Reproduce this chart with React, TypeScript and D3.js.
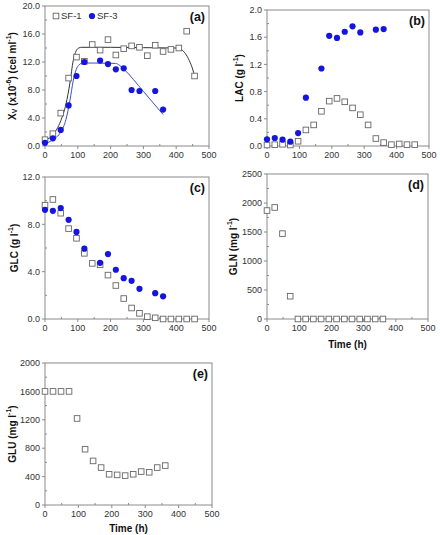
import React from "react";
import * as d3 from "d3";

// ---------- DATA ----------
const timesSF1 = [0, 24, 48, 72, 96, 120, 144, 168, 192, 216, 240, 264, 288, 312, 336, 360, 384, 408, 432, 456];
const timesSF3 = [0, 24, 48, 72, 96, 120, 168, 192, 216, 240, 264, 288, 336, 360];

const xvSF1 = [0.9, 1.76, 4.7, 9.7, 12.7, 12.1, 14.5, 13.7, 15.2, 13.0, 13.9, 14.3, 14.1, 12.9, 14.4, 13.5, 13.8, 14.0, 16.4, 10.0];
const xvSF3 = [0.45, 1.1, 2.3, 5.8, 10.0, 12.0, 12.2, 11.7, 10.95, 11.1, 8.0, 7.86, 7.86, 5.2];

const fitSF1T = [0, 24, 48, 64, 76, 86, 95, 103, 112, 200, 300, 400, 415, 428, 440, 450, 456];
const fitSF1V = [0.8, 1.6, 3.6, 6.0, 9.0, 12.2, 13.6, 14.0, 14.1, 14.1, 14.05, 14.0, 13.8, 13.2, 12.2, 11.0, 10.0];
const fitSF3T = [0, 24, 48, 64, 76, 86, 95, 104, 115, 150, 215, 228, 240, 300, 360];
const fitSF3V = [0.3, 0.9, 2.0, 3.8, 6.5, 9.3, 10.9, 11.6, 11.85, 11.85, 11.8, 11.5, 11.0, 7.8, 4.5];

const lacSF1 = [0.015, 0.02, 0.025, 0.015, 0.07, 0.236, 0.31, 0.51, 0.66, 0.7, 0.65, 0.56, 0.46, 0.31, 0.11, 0.05, 0.02, 0.03, 0.02, 0.02];
const lacSF3 = [0.098, 0.118, 0.093, 0.064, 0.19, 0.71, 1.14, 1.62, 1.59, 1.68, 1.76, 1.67, 1.71, 1.72];

const glcSF1 = [9.62, 10.1, 8.94, 7.64, 6.82, 5.55, 4.7, 4.58, 3.71, 2.83, 1.73, 0.93, 0.48, 0.2, 0.1, 0.0, 0.0, 0.0, 0.0, 0.0];
const glcSF3 = [9.23, 9.14, 9.37, 8.38, 7.36, 5.94, 4.75, 5.49, 4.16, 3.45, 3.23, 2.55, 2.18, 1.92];

const glnTimes = [0, 24, 48, 72, 96, 120, 144, 168, 192, 216, 240, 264, 288, 312, 336, 360];
const glnSF1 = [1870, 1923, 1472, 393, 0, 0, 0, 0, 0, 0, 0, 0, 0, 0, 0, 0];

const gluTimes = [0, 24, 48, 72, 96, 120, 144, 168, 192, 216, 240, 264, 288, 312, 336, 360];
const gluSF1 = [1600, 1600, 1600, 1600, 1219, 786, 621, 527, 433, 424, 414, 433, 471, 461, 527, 555];

const xTicks = [0, 100, 200, 300, 400, 500];
const ticksA = [0, 4, 8, 12, 16, 20];
const ticksB = [0, 0.4, 0.8, 1.2, 1.6, 2.0];
const ticksC = [0, 4, 8, 12];
const ticksD = [0, 500, 1000, 1500, 2000, 2500];
const ticksE = [0, 400, 800, 1200, 1600, 2000];

const seriesNames = ["SF-1", "SF-3"];

// ---------- STYLE ----------
const FONT = "Liberation Sans, Arial, sans-serif";
const AXIS = "#8a8a8a";
const TXT = "#333";
const SQ = "#666";
const BLUE = "#1515e0";
const BLUE_LINE = "#3a4bd0";
const BLACK_LINE = "#333";

type Pts = { t: number[]; v: number[] };

type PanelProps = {
  left: number; top: number; w: number; h: number;
  yMax: number; yTicks: number[]; yFmt: (d: number) => string;
  yLabel: React.ReactNode; yLabelX: number;
  tag: string; squares?: Pts; circles?: Pts; fits?: { pts: Pts; color: string }[];
  timeLabel?: number; legend?: boolean;
};

function Panel(p: PanelProps) {
  const x = d3.scaleLinear().domain([0, 500]).range([p.left, p.left + p.w]);
  const y = d3.scaleLinear().domain([0, p.yMax]).range([p.top + p.h, p.top]);
  const bottom = p.top + p.h;
  const right = p.left + p.w;
  const xMinor = d3.range(50, 500, 100);
  const step = p.yTicks[1] - p.yTicks[0];
  const yMinor = p.yTicks.slice(0, -1).map((d) => d + step / 2);
  const line = d3.line<[number, number]>().x((d) => x(d[0])).y((d) => y(d[1])).curve(d3.curveMonotoneX);
  const s = 5.6;
  return (
    <g fontFamily={FONT}>
      <rect x={p.left} y={p.top} width={p.w} height={p.h} fill="none" stroke={AXIS} strokeWidth={1} />
      {xTicks.map((t) => (
        <g key={"xt" + t}>
          <line x1={x(t)} x2={x(t)} y1={bottom} y2={bottom + 3} stroke={AXIS} />
          <text x={x(t)} y={bottom + 12} textAnchor="middle" fontSize={9} fill={TXT}>{t}</text>
        </g>
      ))}
      {xMinor.map((t) => (
        <line key={"xm" + t} x1={x(t)} x2={x(t)} y1={bottom} y2={bottom - 2} stroke={AXIS} />
      ))}
      {p.yTicks.map((t) => (
        <g key={"yt" + t}>
          <line x1={p.left - 3} x2={p.left} y1={y(t)} y2={y(t)} stroke={AXIS} />
          <text x={p.left - 5} y={y(t) + 3.2} textAnchor="end" fontSize={9} fill={TXT}>{p.yFmt(t)}</text>
        </g>
      ))}
      {yMinor.map((t) => (
        <line key={"ym" + t} x1={p.left} x2={p.left + 2} y1={y(t)} y2={y(t)} stroke={AXIS} />
      ))}
      {p.fits && p.fits.map((f, i) => (
        <path key={"f" + i} d={line(f.pts.t.map((t, j) => [t, f.pts.v[j]] as [number, number])) || ""} fill="none" stroke={f.color} strokeWidth={1} />
      ))}
      {p.squares && p.squares.t.map((t, i) => (
        <rect key={"s" + i} x={x(t) - s / 2} y={y(p.squares!.v[i]) - s / 2} width={s} height={s} fill="white" stroke={SQ} strokeWidth={0.9} />
      ))}
      {p.circles && p.circles.t.map((t, i) => (
        <circle key={"c" + i} cx={x(t)} cy={y(p.circles!.v[i])} r={3.1} fill={BLUE} />
      ))}
      <text x={right - 4} y={p.top + 15} textAnchor="end" fontSize={12.5} fontWeight="bold" fill="#111">{p.tag}</text>
      <text transform={`translate(${p.yLabelX},${p.top + p.h / 2}) rotate(-90)`} textAnchor="middle" dominantBaseline="central" fontSize={10} fontWeight="bold" fill="#111">{p.yLabel}</text>
      {p.timeLabel !== undefined && (
        <text x={p.left + p.w / 2} y={p.timeLabel} textAnchor="middle" fontSize={10} fontWeight="bold" fill="#111">Time (h)</text>
      )}
      {p.legend && (
        <g fontSize={9.5} fill={TXT}>
          <rect x={56 - s / 2} y={16 - s / 2} width={s} height={s} fill="white" stroke={SQ} strokeWidth={0.9} />
          <text x={61} y={19.3} fill={TXT}>{seriesNames[0]}</text>
          <circle cx={92} cy={16} r={3.1} fill={BLUE} />
          <text x={97} y={19.3} fill={TXT}>{seriesNames[1]}</text>
        </g>
      )}
    </g>
  );
}

const sup = (s: string, rest: string) => (
  <>
    <tspan dy={-4} fontSize={7}>{s}</tspan>
    <tspan dy={4}>{rest}</tspan>
  </>
);

export default function App() {
  const f1 = d3.format(".1f");
  const f0 = d3.format("d");
  return (
    <svg width={440} height={535} style={{ position: "absolute", left: 0, top: 0, background: "white" }}>
      <Panel left={45} top={6} w={164} h={140} yMax={20} yTicks={ticksA} yFmt={f1}
        yLabelX={12} tag="(a)" legend
        yLabel={<>X<tspan dy={2} fontSize={7}>V</tspan><tspan dy={-2}> (x10</tspan>{sup("-6", ") (cel ml")}{sup("-1", ")")}</>}
        squares={{ t: timesSF1, v: xvSF1 }} circles={{ t: timesSF3, v: xvSF3 }}
        fits={[{ pts: { t: fitSF1T, v: fitSF1V }, color: BLACK_LINE }, { pts: { t: fitSF3T, v: fitSF3V }, color: BLUE_LINE }]} />
      <Panel left={267} top={10} w={162} h={136} yMax={2} yTicks={ticksB} yFmt={f1}
        yLabelX={239} tag="(b)"
        yLabel={<>LAC (g l{sup("-1", ")")}</>}
        squares={{ t: timesSF1, v: lacSF1 }} circles={{ t: timesSF3, v: lacSF3 }} />
      <Panel left={45} top={177} w={164} h={142} yMax={12} yTicks={ticksC} yFmt={f1}
        yLabelX={14} tag="(c)"
        yLabel={<>GLC (g l{sup("-1", ")")}</>}
        squares={{ t: timesSF1, v: glcSF1 }} circles={{ t: timesSF3, v: glcSF3 }} />
      <Panel left={267} top={174} w={161} h={145} yMax={2500} yTicks={ticksD} yFmt={f0}
        yLabelX={233} tag="(d)" timeLabel={348}
        yLabel={<>GLN (mg l{sup("-1", ")")}</>}
        squares={{ t: glnTimes, v: glnSF1 }} />
      <Panel left={45} top={363} w={167} h={142} yMax={2000} yTicks={ticksE} yFmt={f0}
        yLabelX={12} tag="(e)" timeLabel={532}
        yLabel={<>GLU (mg l{sup("-1", ")")}</>}
        squares={{ t: gluTimes, v: gluSF1 }} />
    </svg>
  );
}
